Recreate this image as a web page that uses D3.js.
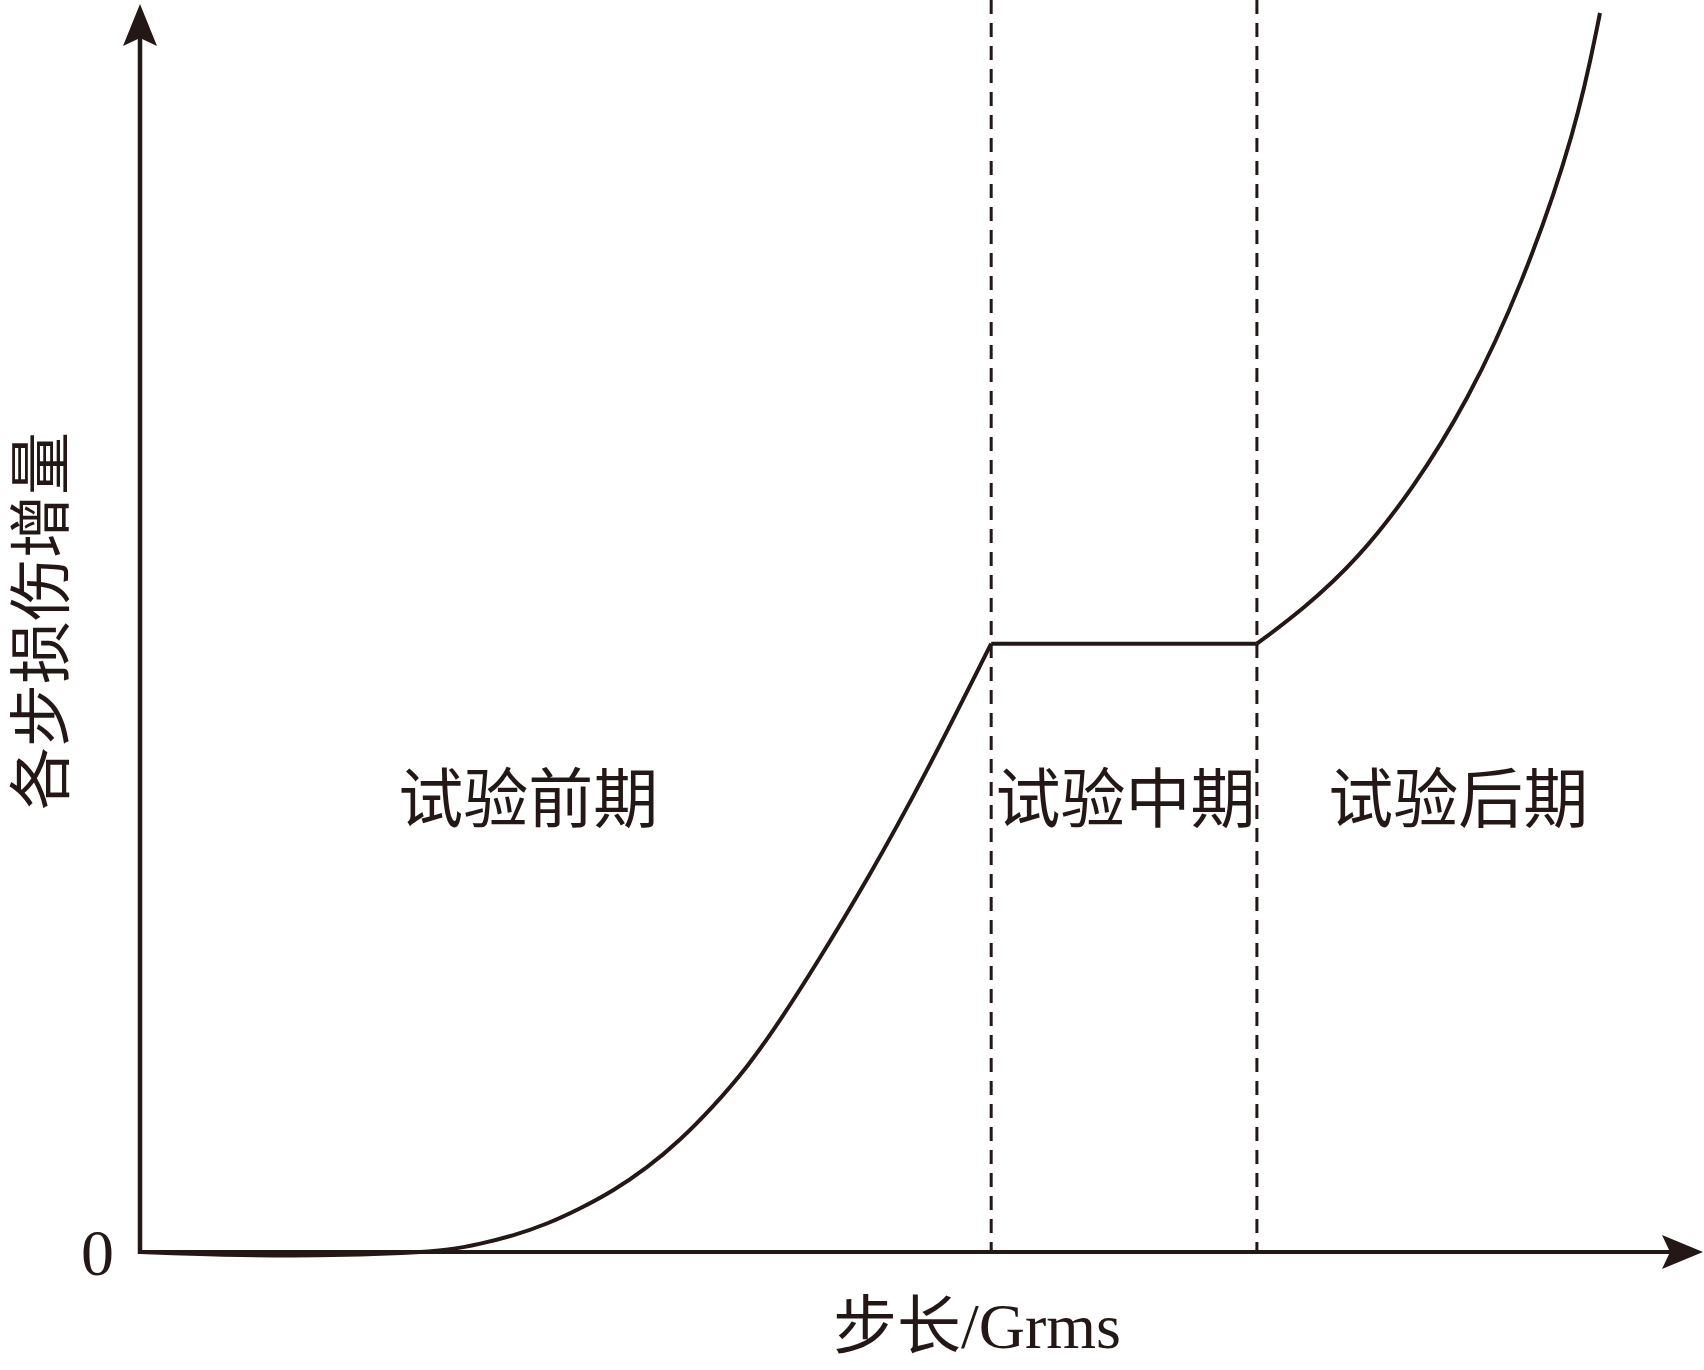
<!DOCTYPE html>
<html>
<head>
<meta charset="utf-8">
<script src="https://cdn.jsdelivr.net/npm/d3@7"></script>
<style>
  html, body { margin: 0; padding: 0; background: #fff; }
  svg { display: block; }
</style>
</head>
<body>
<svg id="chart" width="1704" height="1370"></svg>
<script>
// ---- data ----
const earlyStage = [
  [0, 0], [5.5, -0.24], [12.3, -0.32], [18.5, -0.08], [21.2, 0.16], [23.3, 0.65],
  [25.5, 1.29], [27.9, 2.26], [30.1, 3.47], [32.4, 4.92], [34.7, 6.75],
  [37.0, 9.02], [39.2, 11.65], [41.6, 14.9], [43.8, 18.6], [46.2, 23.0],
  [49.9, 30.2], [53.7, 38.3], [58.3, 49.1]
];
const middleStage = [[58.3, 49.1], [76.5, 49.1]];
const lateStage = [
  [76.5, 49.1], [79.7, 51.9], [83.4, 55.9], [87.2, 61.6], [90.9, 68.6],
  [94.6, 77.8], [98.4, 90.6], [100, 100]
];
const stageBounds = [58.3, 76.5];
const stageLabels = ["试验前期", "试验中期", "试验后期"];
const stageLabelX = [26.6, 67.5, 90.3];
const stageLabelY = 37.0;
const yTicks = [0];
const xTitleCJK = "步长";
const xTitleLatin = "/Grms";
const yTitle = "各步损伤增量";

// ---- setup ----
const ink = "#231815";
const svg = d3.select("#chart");
const x = d3.scaleLinear().domain([0, 100]).range([140, 1600]);
const y = d3.scaleLinear().domain([0, 100]).range([1252, 13]);
const cjk = "'Noto Sans CJK SC', sans-serif";
const serif = "'Liberation Serif', 'Times New Roman', serif";

// dashed stage boundaries
svg.selectAll("line.bound").data(stageBounds).enter().append("line")
  .attr("class", "bound")
  .attr("x1", d => x(d)).attr("x2", d => x(d))
  .attr("y1", 0).attr("y2", y(0))
  .attr("stroke", ink).attr("stroke-width", 3)
  .attr("stroke-dasharray", "14,9");

// axes lines
svg.append("line").attr("x1", x(0)).attr("x2", 1670).attr("y1", y(0)).attr("y2", y(0))
  .attr("stroke", ink).attr("stroke-width", 4);
svg.append("line").attr("x1", x(0)).attr("x2", x(0)).attr("y1", y(0) + 2).attr("y2", 38)
  .attr("stroke", ink).attr("stroke-width", 4.5);

// arrowheads
const ox = x(0), oy = y(0);
svg.append("path")
  .attr("d", `M${ox},4 L${ox + 17},46 L${ox},38 L${ox - 17},46 Z`)
  .attr("fill", ink);
svg.append("path")
  .attr("d", `M1703,${oy} L1662,${oy - 17} L1670,${oy} L1662,${oy + 17} Z`)
  .attr("fill", ink);

// y tick label "0"
const yAxis = d3.axisLeft(y).tickValues(yTicks).tickSize(0).tickPadding(26)
  .tickFormat(d3.format("d"));
const gy = svg.append("g").attr("transform", `translate(${x(0)},0)`).call(yAxis);
gy.select(".domain").remove();
gy.selectAll("text").attr("font-family", serif).attr("font-size", 66)
  .attr("fill", ink).attr("dy", "0.34em");

// curve
const smooth = d3.line().x(d => x(d[0])).y(d => y(d[1])).curve(d3.curveBasis);
const straight = d3.line().x(d => x(d[0])).y(d => y(d[1]));
svg.append("path").datum(earlyStage).attr("d", smooth)
  .attr("fill", "none").attr("stroke", ink).attr("stroke-width", 4);
svg.append("path").datum(middleStage).attr("d", straight)
  .attr("fill", "none").attr("stroke", ink).attr("stroke-width", 4);
svg.append("path").datum(lateStage).attr("d", smooth)
  .attr("fill", "none").attr("stroke", ink).attr("stroke-width", 4);

// stage labels
svg.selectAll("text.stage").data(stageLabels).enter().append("text")
  .attr("class", "stage")
  .attr("x", (d, i) => x(stageLabelX[i]))
  .attr("y", y(stageLabelY))
  .attr("text-anchor", "middle")
  .attr("dominant-baseline", "central")
  .attr("font-family", cjk).attr("font-weight", 400).attr("font-size", 65)
  .attr("fill", ink)
  .text(d => d);

// x title
const xt = svg.append("text")
  .attr("x", 977).attr("y", 1348)
  .attr("text-anchor", "middle")
  .attr("fill", ink);
xt.append("tspan").attr("font-family", cjk).attr("font-weight", 400).attr("font-size", 64).text(xTitleCJK);
xt.append("tspan").attr("font-family", serif).attr("font-size", 64).text(xTitleLatin);

// y title
svg.append("text")
  .attr("transform", "translate(35,621) rotate(-90)")
  .attr("text-anchor", "middle")
  .attr("dominant-baseline", "central")
  .attr("font-family", cjk).attr("font-weight", 400).attr("font-size", 63)
  .attr("fill", ink)
  .text(yTitle);
</script>
</body>
</html>
